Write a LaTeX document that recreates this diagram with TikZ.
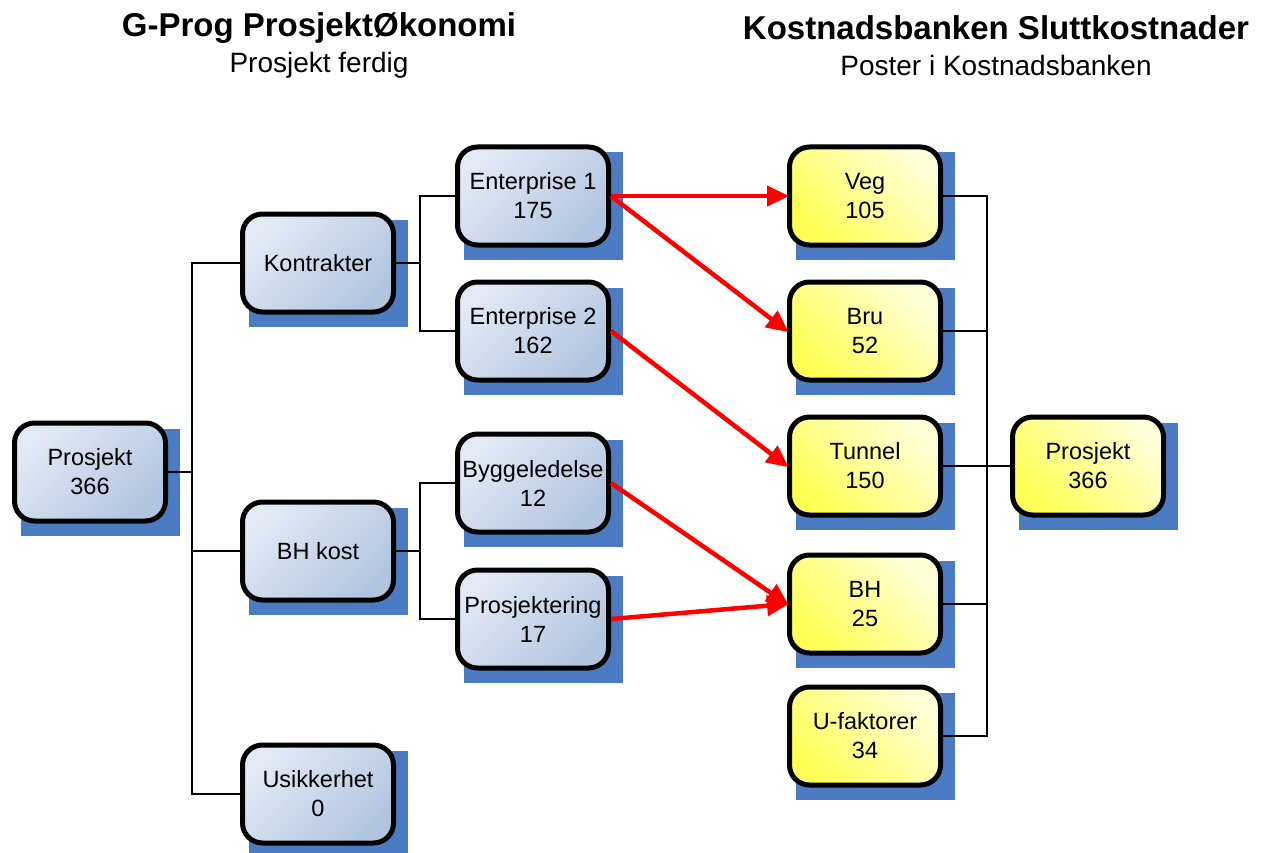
\documentclass[tikz,border=0pt]{standalone}
\usepackage{fontspec}
\setmainfont{Liberation Sans}
\usetikzlibrary{arrows.meta,backgrounds,calc}
\definecolor{bluL}{HTML}{E2EAF5}
\definecolor{bluD}{HTML}{B2C5E0}
\definecolor{yelL}{HTML}{FFFFD8}
\definecolor{yelD}{HTML}{FFFF55}
\definecolor{shad}{HTML}{4B7BC2}
\definecolor{arr}{HTML}{FF0000}
\tikzset{
  box/.style={draw=black, line width=5pt, rounded corners=20pt, minimum width=151pt, minimum height=98pt,
    align=center, font=\fontsize{23.5}{29}\selectfont, inner sep=0pt},
  bbox/.style={box, top color=bluL, bottom color=bluD, shading angle=45},
  ybox/.style={box, top color=yelL, bottom color=yelD, shading angle=-45},
  conn/.style={draw=black, line width=2.5pt},
  rarrow/.style={draw=arr, line width=4.5pt, -{Triangle[length=22pt,width=20pt]}, shorten >=-2pt},
  ttl/.style={font=\fontsize{33}{36}\selectfont\bfseries},
  sub/.style={font=\fontsize{28}{32}\selectfont}
}
\newcommand{\shadowof}[1]{\fill[shad] ([shift={(9,8)}]#1.north west) rectangle ([shift={(12,12)}]#1.south east);}
\begin{document}
\begin{tikzpicture}[x=1pt,y=-1pt]
\useasboundingbox (0,0) rectangle (1268,853);
\node[ttl] (t1) at (319,28) {G-Prog ProsjektØkonomi};
\node[sub] (s1) at (319,65) {Prosjekt ferdig};
\node[ttl] (t2) at (996,28) {Kostnadsbanken Sluttkostnader};
\node[sub] (s2) at (996,65) {Poster i Kostnadsbanken};

\node[bbox] (p1) at (90,472) {Prosjekt\\366};
\node[bbox] (kon) at (318,263) {Kontrakter};
\node[bbox] (bhk) at (318,551) {BH kost};
\node[bbox] (usi) at (318,794) {Usikkerhet\\0};
\node[bbox] (e1) at (533,196) {Enterprise 1\\175};
\node[bbox] (e2) at (533,331) {Enterprise 2\\162};
\node[bbox] (byg) at (533,483) {Byggeledelse\\12};
\node[bbox] (pro) at (533,619) {Prosjektering\\17};

\node[ybox] (veg) at (865,196) {Veg\\105};
\node[ybox] (bru) at (865,331) {Bru\\52};
\node[ybox] (tun) at (865,466) {Tunnel\\150};
\node[ybox] (bh) at (865,604) {BH\\25};
\node[ybox] (uf) at (865,736) {U-faktorer\\34};
\node[ybox] (p2) at (1088,466) {Prosjekt\\366};

\begin{scope}[on background layer]
\foreach \n in {p1,kon,bhk,usi,e1,e2,byg,pro,veg,bru,tun,bh,uf,p2}{\shadowof{\n}}
\end{scope}

\coordinate (j1) at (192,472);
\coordinate (j2) at (420,263);
\coordinate (j3) at (420,551);
\coordinate (j4) at (987,466);

\begin{scope}[on background layer]
\draw[conn] (p1.east) -- (j1);
\draw[conn] (kon.west) -| (j1);
\draw[conn] (bhk.west) -| (j1);
\draw[conn] (usi.west) -| (j1);
\draw[conn] (kon.east) -- (j2);
\draw[conn] (e1.west) -| (j2);
\draw[conn] (e2.west) -| (j2);
\draw[conn] (bhk.east) -- (j3);
\draw[conn] (byg.west) -| (j3);
\draw[conn] (pro.west) -| (j3);
\draw[conn] (veg.east) -| (j4);
\draw[conn] (bru.east) -| (j4);
\draw[conn] (tun.east) -- (j4);
\draw[conn] (bh.east) -| (j4);
\draw[conn] (uf.east) -| (j4);
\draw[conn] (j4) -- (p2.west);
\end{scope}

\draw[rarrow] (e1.east) -- (veg.west);
\draw[rarrow] (e1.east) -- (bru.west);
\draw[rarrow] (e2.east) -- (tun.west);
\draw[rarrow] (byg.east) -- (bh.west);
\draw[rarrow] (pro.east) -- (bh.west);
\end{tikzpicture}
\end{document}
